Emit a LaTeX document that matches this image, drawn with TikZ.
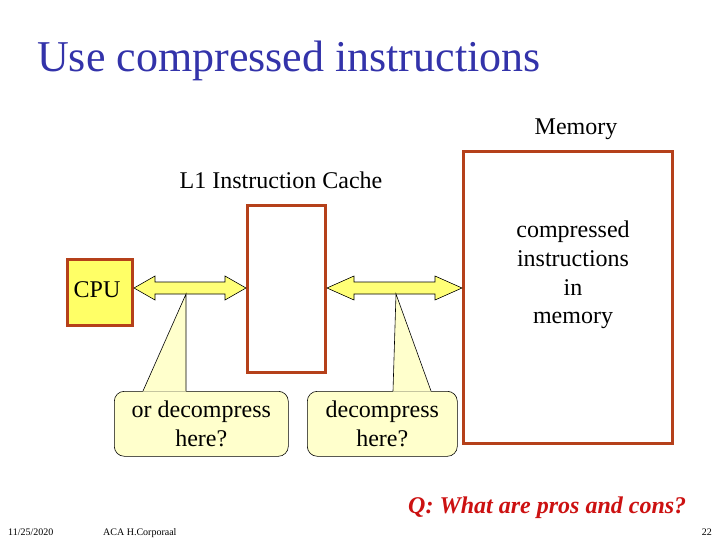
\documentclass[tikz,border=0pt]{standalone}
\usepackage{fontspec}
\setmainfont{Liberation Serif}
\usetikzlibrary{calc}
\definecolor{rust}{HTML}{B5401A}
\definecolor{titleblue}{HTML}{3333AA}
\definecolor{cpuyellow}{HTML}{FFFF66}
\definecolor{arrowyellow}{HTML}{FFFF77}
\definecolor{calloutfill}{HTML}{FFFFCC}
\definecolor{qred}{HTML}{CC1111}
\newcommand{\dblarr}[3]{%
  \filldraw[arrowstyle] let \p1=(#1), \p2=(#2) in
    (\x1,\y1) -- (\x1+#3,\y1+12pt) -- (\x1+#3,\y1+6pt) -- (\x2-#3,\y1+6pt) --
    (\x2-#3,\y1+12pt) -- (\x2,\y1) -- (\x2-#3,\y1-12pt) -- (\x2-#3,\y1-6pt) --
    (\x1+#3,\y1-6pt) -- (\x1+#3,\y1-12pt) -- cycle;}
\begin{document}
\begin{tikzpicture}[x=1pt,y=-1pt,
  box/.style={draw=rust, line width=3pt, inner sep=0pt, anchor=north west},
  lbl/.style={font=\fontsize{24}{28.7}\selectfont, inner sep=0pt},
  arrowstyle/.style={fill=arrowyellow, draw=black, line width=0.6pt, line join=miter},
  callout/.style={draw=black, line width=0.6pt, fill=calloutfill, rounded corners=10pt, inner sep=0pt, anchor=north west, align=center, font=\fontsize{24}{28.7}\selectfont},
  foot/.style={font=\fontsize{10}{12}\selectfont, inner sep=0pt, anchor=base west}]
\useasboundingbox (0,0) rectangle (720,540);
\fill[white] (0,0) rectangle (720,540);

\node[anchor=base west, font=\fontsize{44}{50}\selectfont, text=titleblue, inner sep=0pt] (title) at (37,72) {Use compressed instructions};

\node[lbl, anchor=base] (memlbl) at (576,135) {Memory};
\node[lbl, anchor=base] (cachelbl) at (281,189) {L1 Instruction Cache};

\node[box, minimum width=209pt, minimum height=292pt] (mem) at (462,150) {};
\node[lbl, align=center] (memtxt) at (573,275) {compressed\\instructions\\in\\memory};
\node[box, minimum width=78pt, minimum height=167pt] (cache) at (246,204) {};
\node[box, fill=cpuyellow, minimum width=65pt, minimum height=66pt] (cpu) at (66,258) {};
\node[lbl] (cputxt) at (97,290) {CPU};

\coordinate (ay) at (0,288);
\dblarr{cpu.east |- ay}{cache.west |- ay}{21pt}
\dblarr{cache.east |- ay}{mem.west |- ay}{27pt}

% callout 1
\node[callout, minimum width=174pt, minimum height=65pt] (c1) at (114,391) {or decompress\\here?};
\coordinate (p1) at (186,294);
\fill[calloutfill] (143,391.6) -- (p1) -- (186,391.6) -- cycle;
\draw[line width=0.6pt] (143,391) -- (p1) -- (186,391);

% callout 2
\node[callout, minimum width=150pt, minimum height=65pt] (c2) at (307,391) {decompress\\here?};
\coordinate (p2) at (396,294);
\fill[calloutfill] (393,391.6) -- (p2) -- (431,391.6) -- cycle;
\draw[line width=0.6pt] (393,391) -- (p2) -- (431,391);

\node[anchor=base west, inner sep=0pt, text=qred, font=\fontsize{24}{28}\selectfont\bfseries\itshape] (q) at (408,513) {Q: What are pros and cons?};

\node[foot] (date) at (8,535) {11/25/2020};
\node[foot] (auth) at (103,535) {ACA H.Corporaal};
\node[foot, anchor=base east] (pg) at (712,535) {22};
\end{tikzpicture}
\end{document}
